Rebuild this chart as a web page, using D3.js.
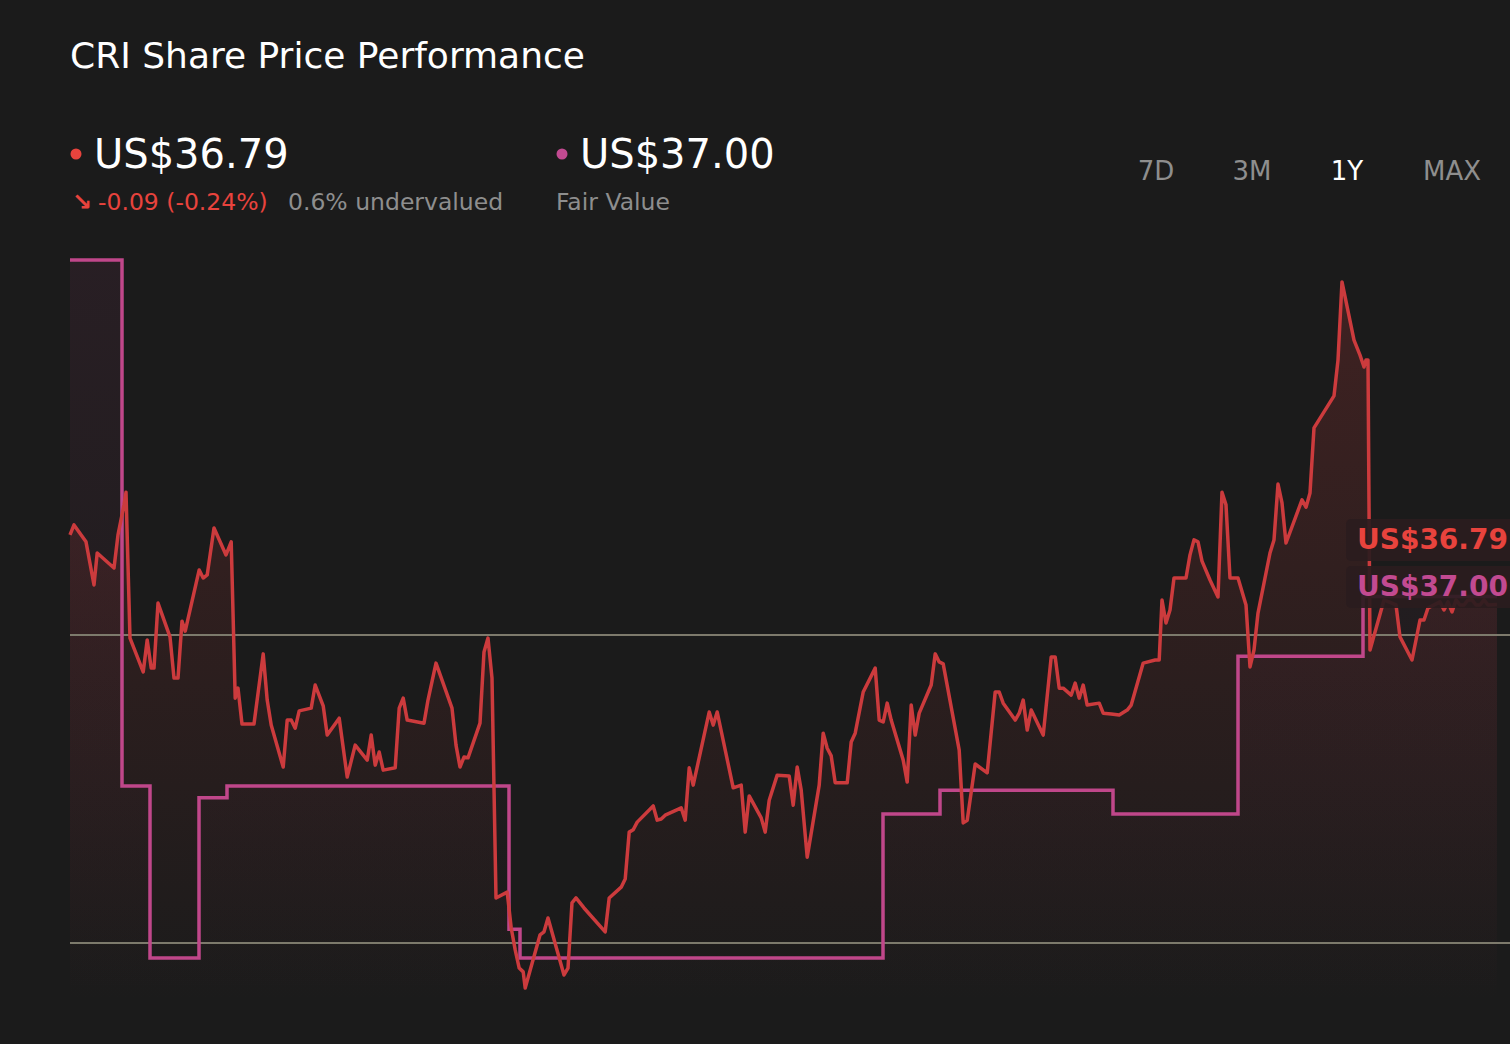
<!DOCTYPE html>
<html><head><meta charset="utf-8">
<script src="https://cdn.jsdelivr.net/npm/d3@7"></script>
<style>html,body{margin:0;background:#1b1b1b;}svg{display:block;font-family:"DejaVu Sans",sans-serif;}</style>
</head><body><svg id="c" width="1510" height="1044"></svg>
<script>
const title = "CRI Share Price Performance";
const lastPrice = 36.79, fairValue = 37.00;
const changeText = "-0.09 (-0.24%)";
const valuationText = "0.6% undervalued";
const ranges = ["7D","3M","1Y","MAX"];
const gridValues = [28, 36];
const priceSeries = [
[0,38.60],[1,38.86],[4,38.42],[6,37.30],[6.8,38.13],[11,37.74],[12,38.60],[13.5,39.38],[14,39.71],[15,35.92],
[18.3,35.04],[19.3,35.87],[20.3,35.14],[21,35.14],[22,36.83],[25,35.95],[26,34.88],[27,34.88],[28,36.36],[28.8,36.10],
[32.3,37.69],[33.3,37.48],[34.3,37.56],[36,38.78],[39,38.08],[40.3,38.42],[41.3,34.36],[42,34.62],[43,33.69],[46,33.69],
[48.3,35.51],[49.3,34.31],[50.3,33.66],[53.3,32.57],[54.3,33.79],[55.3,33.79],[56.3,33.58],[57.3,34.03],[60.3,34.10],[61.3,34.70],
[63.3,34.16],[64.3,33.40],[67.3,33.84],[69.3,32.31],[71.3,33.14],[74.3,32.75],[75.3,33.40],[76.3,32.62],[77.3,32.96],[78.3,32.49],
[81.3,32.55],[82.3,34.10],[83.3,34.36],[84.3,33.79],[88.5,33.71],[89.5,34.31],[91.5,35.27],[95.5,34.10],[96.5,33.14],[97.5,32.57],
[98.5,32.83],[99.5,32.81],[102.5,33.71],[103.5,35.56],[104.5,35.92],[105.5,34.88],[106.5,29.17],[109.3,29.32],[110.3,28.39],[111.3,27.82],
[112.3,27.35],[113.3,27.25],[113.8,26.83],[117.5,28.21],[118.5,28.29],[119.5,28.65],[123.5,27.17],[124.5,27.35],[125.5,29.04],[126.5,29.17],
[128.5,28.91],[133.8,28.29],[134.8,29.17],[137.8,29.45],[138.8,29.66],[139.8,30.88],[140.8,30.94],[141.8,31.14],[145.8,31.56],[146.8,31.19],
[147.8,31.22],[148.8,31.32],[152.8,31.51],[153.8,31.19],[154.8,32.55],[155.8,32.10],[159.8,34.00],[160.8,33.66],[161.8,34.00],[165.8,32.03],
[167.8,32.10],[168.8,30.88],[169.8,31.82],[172.8,31.25],[173.8,30.88],[174.8,31.71],[176.8,32.36],[179.8,32.34],[180.8,31.58],[181.8,32.57],
[182.8,31.97],[184.3,30.23],[187.3,32.10],[188.3,33.45],[189.3,33.06],[190.3,32.86],[191.3,32.16],[194.3,32.16],[195.3,33.22],[196.3,33.45],
[198.3,34.52],[201.3,35.14],[202.3,33.79],[203.3,33.74],[204.3,34.23],[205.3,33.79],[208.3,32.75],[209.3,32.18],[210.3,34.18],[211.3,33.40],
[212.3,33.97],[215.3,34.70],[216.3,35.51],[217.3,35.30],[218.3,35.25],[222.3,33.01],[223.3,31.12],[224.3,31.19],[226.3,32.65],[229.3,32.42],
[231.3,34.52],[232.3,34.52],[233.3,34.23],[236.3,33.79],[237.3,33.97],[238.3,34.31],[239.3,33.53],[240.3,34.05],[243.3,33.40],[245.3,35.43],
[246.3,35.43],[247.3,34.62],[248.3,34.62],[250.3,34.44],[251.3,34.75],[252.3,34.36],[253.3,34.70],[254.3,34.18],[257.3,34.23],[258.3,33.97],
[260.3,33.95],[262.3,33.92],[264.3,34.05],[265.3,34.18],[268.3,35.27],[271.3,35.35],[272.3,35.35],[273,36.91],[274,36.31],[275,36.65],
[276,37.48],[279,37.48],[280,38.08],[281,38.47],[282,38.42],[283,37.92],[285,37.43],[287,36.99],[288,39.71],[289,39.38],
[290,37.48],[292,37.48],[294,36.78],[295,35.17],[296,35.61],[297,36.57],[300,38.13],[301,38.47],[302,39.92],[303,39.43],
[304,38.39],[308,39.51],[309,39.32],[310,39.69],[311,41.38],[316,42.21],[317,43.14],[318,45.17],[321,43.66],[322.5,43.27],
[323.5,42.96],[324,43.14],[324.5,43.14],[325,35.61],[328.5,36.91],[331.5,36.78],[332.5,35.95],[335.5,35.35],[336.5,35.87],[337.5,36.39],
[338.5,36.39],[339.5,36.70],[342.5,36.86],[343.5,36.65],[344.5,36.86],[345.5,36.60],[346.5,36.91],[347.5,36.78],[348.5,36.78],[349.5,36.91],
[350.5,36.91],[351.5,36.78],[352.5,36.78],[353.5,36.91],[354.5,36.78],[356.75,36.79]];
const fairSeries = [[0,45.74],[13,32.08],[20,27.61],[32.25,31.77],[39.25,32.08],[109.75,28.36],[112.5,27.61],
[203.25,31.35],[217.5,31.97],[260.75,31.35],[292,35.45],[323.25,37.00],[356.75,37.00]];

const svg = d3.select("#c");
const x = d3.scaleLinear().domain([0,356.75]).range([70,1497]);
const y = d3.scaleLinear().domain([28,36]).range([943,635]);
const bottom = 1005;
const defs = svg.append("defs");
const g1 = defs.append("linearGradient").attr("id","gp").attr("x1",0).attr("x2",0).attr("y1",0).attr("y2",1);
g1.append("stop").attr("offset","0%").attr("stop-color","#d03c3c").attr("stop-opacity",0.2);
g1.append("stop").attr("offset","100%").attr("stop-color","#d03c3c").attr("stop-opacity",0.0);
const g2 = defs.append("linearGradient").attr("id","gf").attr("x1",0).attr("x2",0).attr("y1",0).attr("y2",1);
g2.append("stop").attr("offset","0%").attr("stop-color","#c0478a").attr("stop-opacity",0.08);
g2.append("stop").attr("offset","100%").attr("stop-color","#c0478a").attr("stop-opacity",0.0);

svg.append("path").datum(fairSeries).attr("fill","url(#gf)")
 .attr("d",d3.area().curve(d3.curveStepAfter).x(d=>x(d[0])).y0(bottom).y1(d=>y(d[1])));
svg.append("path").datum(priceSeries).attr("fill","url(#gp)")
 .attr("d",d3.area().x(d=>x(d[0])).y0(bottom).y1(d=>y(d[1])));

svg.selectAll(".grid").data(gridValues).enter().append("line")
 .attr("x1",70).attr("x2",1510).attr("y1",d=>y(d)).attr("y2",d=>y(d))
 .attr("stroke","#7d7a6c").attr("stroke-width",2);

svg.append("path").datum(fairSeries).attr("fill","none").attr("stroke","#c0478a").attr("stroke-width",3.5)
 .attr("d",d3.line().curve(d3.curveStepAfter).x(d=>x(d[0])).y(d=>y(d[1])));
svg.append("path").datum(priceSeries).attr("fill","none").attr("stroke","#cc3b3d").attr("stroke-width",3.5)
 .attr("stroke-linejoin","round").attr("d",d3.line().x(d=>x(d[0])).y(d=>y(d[1])));

[[lastPrice,519,"#e8433d"],[fairValue,566,"#c24a91"]].forEach(([v,top,c])=>{
  svg.append("rect").attr("x",1346).attr("y",top).attr("width",175).attr("height",42).attr("rx",5)
    .attr("fill","#2a1c1e").attr("fill-opacity",0.92);
  svg.append("text").attr("x",1357).attr("y",top+30).attr("fill",c).attr("font-size",28).attr("font-weight","bold")
    .text("US$"+v.toFixed(2));
});

svg.append("text").attr("x",70).attr("y",68).attr("fill","#fff").attr("font-size",36).text(title);
svg.append("circle").attr("cx",76).attr("cy",154).attr("r",5.5).attr("fill","#e8433d");
svg.append("text").attr("x",94).attr("y",168).attr("fill","#fff").attr("font-size",40).text("US$"+lastPrice.toFixed(2));
svg.append("circle").attr("cx",562).attr("cy",154).attr("r",5.5).attr("fill","#c24a91");
svg.append("text").attr("x",580).attr("y",168).attr("fill","#fff").attr("font-size",40).text("US$"+fairValue.toFixed(2));
svg.append("text").attr("x",72).attr("y",210).attr("fill","#e8433d").attr("font-size",24).attr("font-weight","bold").text("\u2198");
svg.append("text").attr("x",98).attr("y",210).attr("fill","#e8433d").attr("font-size",23.5).text(changeText);
svg.append("text").attr("x",288).attr("y",210).attr("fill","#8e8e8e").attr("font-size",23.5).text(valuationText);
svg.append("text").attr("x",556).attr("y",210).attr("fill","#8e8e8e").attr("font-size",23.5).text("Fair Value");
const rx = [1156,1252,1347,1452];
svg.selectAll(".rng").data(ranges).enter().append("text").attr("x",(d,i)=>rx[i]).attr("y",180)
 .attr("text-anchor","middle").attr("font-size",26).attr("fill",d=>d==="1Y"?"#fff":"#8e8e8e").text(d=>d);
</script></body></html>
